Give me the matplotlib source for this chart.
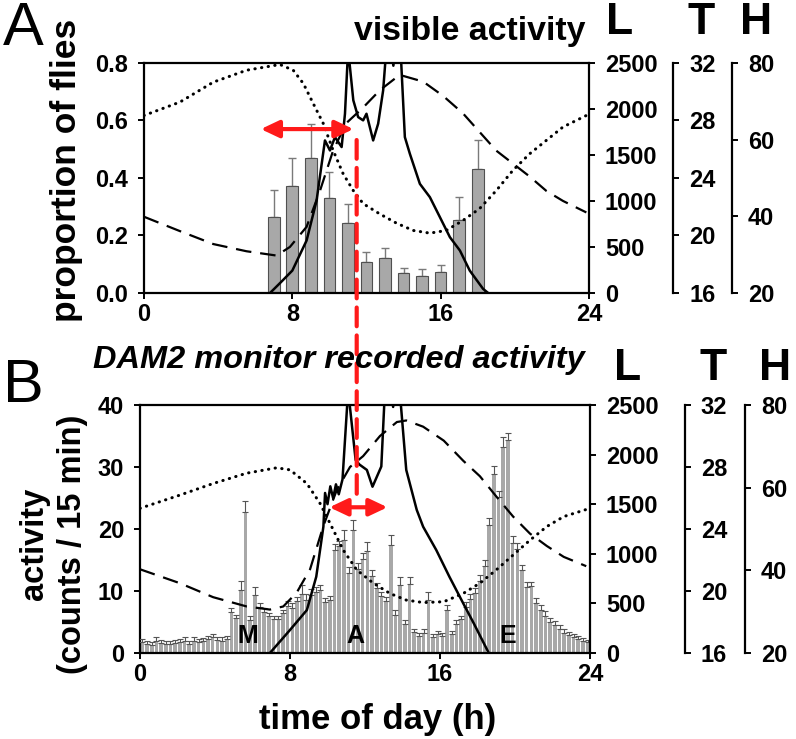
import matplotlib
matplotlib.use("Agg")
import matplotlib.pyplot as plt
from matplotlib.patches import ConnectionPatch

plt.rcParams['font.family'] = ['Liberation Sans', 'DejaVu Sans']
plt.rcParams['font.weight'] = 'bold'
plt.rcParams['axes.labelweight'] = 'bold'
plt.rcParams['axes.linewidth'] = 1.6
plt.rcParams['xtick.major.width'] = 1.4
plt.rcParams['ytick.major.width'] = 1.4
plt.rcParams['xtick.major.size'] = 4
plt.rcParams['ytick.major.size'] = 4
plt.rcParams['ytick.major.pad'] = 7.5
plt.rcParams['xtick.labelsize'] = 17
plt.rcParams['ytick.labelsize'] = 17

# ---- panel A: visible activity (proportion of flies, hourly) ----
hours_a = [7, 8, 9, 10, 11, 12, 13, 14, 15, 16, 17, 18]
prop_a = [0.264, 0.372, 0.469, 0.331, 0.243, 0.109, 0.123, 0.069, 0.058, 0.072, 0.252, 0.430]
prop_err_a = [0.095, 0.097, 0.120, 0.090, 0.065, 0.033, 0.033, 0.019, 0.024, 0.024, 0.081, 0.103]

# light (lux), temperature (C), humidity (%) during panel A recordings
light_t_a = [6.8, 7.4, 8.0, 8.77, 9.31, 9.76, 10.03, 10.3, 10.66, 10.84, 11.01, 11.29, 11.55,
             11.82, 12.0, 12.36, 12.63, 12.9, 13.05, 13.25, 13.45, 13.65, 13.85, 14.07, 14.34,
             14.88, 15.42, 15.96, 16.5, 17.04, 17.57, 18.29, 18.56]
light_a = [0, 120, 243, 570, 1005, 1658, 1549, 1694, 1586, 1948, 2650, 2094, 1912,
           1876, 1948, 1658, 1840, 2203, 2600, 2800, 2470, 2800, 2600, 1694, 1513,
           1186, 1041, 824, 606, 461, 243, 44, 0]
temp_t_a = [0, 1.94, 3.74, 5.53, 7.15, 7.87, 8.77, 9.49, 10.2, 10.9, 11.82, 12.72, 13.62,
            13.98, 15.06, 16.14, 17.2, 18.1, 19.0, 19.9, 20.8, 21.7, 22.6, 23.86]
temp_a = [21.3, 20.3, 19.4, 18.9, 18.6, 19.2, 20.6, 23.1, 25.9, 27.8, 28.9, 30.1, 31.0,
          31.1, 30.7, 29.7, 28.5, 27.2, 25.9, 25.0, 24.1, 23.1, 22.4, 21.6]
hum_t_a = [0, 1.94, 3.74, 5.53, 7.33, 8.05, 8.6, 9.13, 9.67, 10.2, 10.74, 11.29, 11.82,
           12.72, 13.62, 14.52, 15.42, 16.3, 17.2, 18.1, 19.0, 19.9, 20.8, 21.7, 22.6, 23.86]
hum_a = [66.3, 69.8, 75.0, 78.1, 79.6, 78.1, 74.6, 69.4, 64.2, 57.2, 51.1, 46.7, 43.3,
         40.6, 38.2, 36.3, 35.6, 36.3, 38.9, 42.0, 46.7, 52.0, 56.3, 59.8, 63.3, 66.3]

# ---- panel B: DAM2 monitor counts per 15 min (96 bins) ----
counts_b = [1.8, 1.5, 1.3, 2.0, 1.6, 1.5, 1.4, 1.6, 1.7, 1.9, 1.5, 2.0, 1.8, 1.9, 2.2, 2.5,
            2.1, 2.0, 2.3, 6.6, 5.6, 10.2, 22.8, 5.3, 9.3, 7.4, 6.6, 5.9, 5.5, 5.4, 6.4, 7.6,
            7.3, 8.4, 9.5, 8.6, 9.3, 9.8, 10.1, 8.2, 8.6, 16.6, 17.2, 18.3, 12.9, 19.8, 13.6, 15.2,
            16.4, 12.4, 10.5, 9.2, 8.4, 17.4, 6.2, 11.0, 4.6, 11.2, 3.4, 2.8, 3.2, 8.6, 2.6, 3.0,
            2.7, 6.9, 3.1, 4.6, 5.4, 7.4, 8.7, 9.6, 11.6, 14.0, 20.6, 28.8, 25.2, 33.2, 34.3, 17.8,
            16.8, 13.4, 10.7, 10.8, 8.1, 7.0, 6.0, 5.0, 4.5, 3.9, 3.3, 2.9, 2.5, 2.2, 2.0, 1.7]
counts_err_b = [0.5, 0.5, 0.4, 0.6, 0.5, 0.4, 0.5, 0.5, 0.5, 0.6, 0.4, 0.5, 0.5, 0.5, 0.6, 0.5,
                0.5, 0.6, 0.5, 0.7, 0.6, 1.4, 1.7, 0.6, 1.3, 0.7, 0.7, 0.5, 0.5, 0.5, 0.6, 0.8,
                0.8, 0.7, 1.4, 0.9, 1.0, 0.9, 0.9, 0.7, 0.6, 0.9, 0.9, 1.6, 1.0, 1.7, 0.9, 0.9,
                1.5, 1.0, 0.8, 0.7, 0.7, 1.6, 0.7, 1.2, 0.7, 1.1, 0.5, 0.5, 0.6, 1.2, 0.5, 0.5,
                0.5, 0.9, 0.5, 0.7, 0.6, 0.8, 0.8, 0.9, 1.0, 1.0, 1.1, 1.3, 1.0, 1.7, 1.2, 1.0,
                0.9, 0.8, 0.8, 0.7, 0.7, 0.7, 0.7, 0.6, 0.6, 0.6, 0.5, 0.5, 0.5, 0.5, 0.4, 0.4]

light_t_b = [6.93, 8.0, 8.9, 9.4, 9.78, 9.87, 10.0, 10.15, 10.3, 10.45, 10.6, 10.8, 11.1, 11.5,
             11.7, 12.1, 12.4, 12.87, 13.05, 13.3, 13.5, 13.7, 13.87, 14.2, 14.76, 15.1, 15.8,
             16.5, 17.24, 17.8, 18.6]
light_b = [0, 232, 433, 769, 1273, 1613, 1500, 1680, 1560, 1700, 1600, 1750, 2650, 1945,
           1900, 1845, 1676, 1880, 2600, 2800, 2480, 2800, 2600, 1845, 1442, 1273, 1038,
           769, 500, 299, 0]
temp_t_b = [0, 2.13, 3.9, 5.69, 6.93, 7.64, 8.36, 9.07, 9.78, 10.49, 11.2, 11.9, 12.8, 13.7,
            14.2, 15.1, 16.2, 17.24, 18.13, 19.0, 19.9, 20.8, 21.7, 22.6, 23.8]
temp_b = [21.4, 20.5, 19.6, 19.0, 18.8, 19.0, 19.9, 21.4, 24.2, 26.5, 28.0, 28.7, 30.0, 30.9,
          31.0, 30.6, 29.7, 28.4, 27.4, 26.1, 24.8, 23.7, 22.9, 22.2, 21.6]
hum_t_b = [0, 2.13, 3.9, 5.69, 7.29, 8.0, 8.9, 9.6, 10.13, 10.84, 11.56, 12.44, 13.33, 14.2,
           15.1, 16.2, 17.24, 18.13, 19.0, 19.9, 20.8, 21.7, 22.6, 24.0]
hum_b = [55.0, 58.2, 61.0, 63.5, 64.8, 64.3, 61.0, 56.2, 51.4, 44.9, 40.1, 36.9, 34.4, 32.8,
         32.2, 32.4, 34.4, 36.9, 40.1, 43.7, 47.3, 50.6, 53.0, 55.0]

hour_ticks = [0, 8, 16, 24]
red = '#ff1a1a'
arrow_style = '<|-|>,head_length=0.55,head_width=0.26'


def add_env(ax, t_pos, h_pos, lt, lv, tt, tv, ht, hv):
    axL = ax.twinx()
    axL.plot(lt, lv, color='black', lw=1.8)
    axL.set_ylim(0, 2500)
    axL.set_yticks([0, 500, 1000, 1500, 2000, 2500])
    for s in ('top', 'bottom', 'left'):
        axL.spines[s].set_visible(False)

    axT = ax.twinx()
    axT.spines['right'].set_position(('axes', t_pos))
    axT.plot(tt, tv, color='black', lw=1.6, dashes=(7, 4))
    axT.set_ylim(16, 32)
    axT.set_yticks([16, 20, 24, 28, 32])
    for s in ('top', 'bottom', 'left'):
        axT.spines[s].set_visible(False)

    axH = ax.twinx()
    axH.spines['right'].set_position(('axes', h_pos))
    axH.plot(ht, hv, color='black', lw=2.2, linestyle=(0, (0.1, 2.1)), dash_capstyle='round')
    axH.set_ylim(20, 80)
    axH.set_yticks([20, 40, 60, 80])
    for s in ('top', 'bottom', 'left'):
        axH.spines[s].set_visible(False)
    return axH


fig = plt.figure(figsize=(7.96, 7.39), dpi=100)

# ---------------- panel A ----------------
axA = fig.add_axes([0.1809, 0.6036, 0.559, 0.3112])
axA.bar(hours_a, prop_a, width=0.63, color='#a8a8a8', edgecolor='#505050', linewidth=0.8, zorder=2)
axA.errorbar(hours_a, prop_a, yerr=[[0] * len(prop_err_a), prop_err_a], fmt='none',
             ecolor='#7a7a7a', elinewidth=1.0, capsize=3, capthick=1.0, zorder=1)
axA.set_xlim(0, 24)
axA.set_ylim(0, 0.8)
axA.set_xticks(hour_ticks)
axA.set_yticks([0.0, 0.2, 0.4, 0.6, 0.8])
axA.set_yticklabels(['0.0', '0.2', '0.4', '0.6', '0.8'])
axA.spines['right'].set_visible(False)
axA.set_ylabel('proportion of flies', fontsize=25.5)
axA.yaxis.set_label_coords(-0.137, 0.535)
topA = add_env(axA, 1.189, 1.321, light_t_a, light_a, temp_t_a, temp_a, hum_t_a, hum_a)

topA.annotate('', xy=(11.3, 0.57), xytext=(6.3, 0.57),
              xycoords=axA.transData, textcoords=axA.transData,
              arrowprops=dict(arrowstyle=arrow_style, color=red, lw=3,
                              mutation_scale=20, shrinkA=0, shrinkB=0))

# ---------------- panel B ----------------
axB = fig.add_axes([0.1759, 0.1164, 0.5653, 0.3356])
bin_x = [i * 0.25 + 0.125 for i in range(len(counts_b))]
axB.bar(bin_x, counts_b, width=0.19, color='#a8a8a8', linewidth=0, zorder=2)
axB.errorbar(bin_x, counts_b, yerr=[[0] * len(counts_err_b), counts_err_b], fmt='none',
             ecolor='#555555', elinewidth=0.8, capsize=2, capthick=0.8, zorder=3)
axB.set_xlim(0, 24)
axB.set_ylim(0, 40)
axB.set_xticks(hour_ticks)
axB.set_yticks([0, 10, 20, 30, 40])
axB.spines['right'].set_visible(False)
axB.set_ylabel('activity\n(counts / 15 min)', fontsize=23.5, linespacing=1.27)
axB.yaxis.set_label_coords(-0.116, 0.44)
axB.set_xlabel('time of day (h)', fontsize=25, labelpad=12)
axB.xaxis.label.set_x(0.527)
for lab, hx in (('M', 5.76), ('A', 11.47), ('E', 19.6)):
    axB.text(hx, 2.7, lab, fontsize=18, ha='center', va='center', zorder=5)
topB = add_env(axB, 1.211, 1.344, light_t_b, light_b, temp_t_b, temp_b, hum_t_b, hum_b)

topB.annotate('', xy=(13.2, 23.5), xytext=(10.1, 23.5),
              xycoords=axB.transData, textcoords=axB.transData,
              arrowprops=dict(arrowstyle=arrow_style, color=red, lw=3,
                              mutation_scale=20, shrinkA=0, shrinkB=0))

# red dashed line linking the two panels
con = ConnectionPatch(xyA=(11.47, 0.532), coordsA=axA.transData,
                      xyB=(11.56, 25.2), coordsB=axB.transData,
                      color=red, lw=3, linestyle=(0, (4.5, 2.2)))
fig.add_artist(con)

# ---------------- titles / labels ----------------
fig.text(0.004, 0.998, 'A', fontsize=44, fontweight='normal', ha='left', va='top')
fig.text(0.004, 0.515, 'B', fontsize=44, fontweight='normal', ha='left', va='top')
fig.text(0.735, 0.957, 'visible activity', fontsize=24.4, ha='right', va='center')
fig.text(0.735, 0.513, 'DAM2 monitor recorded activity', fontsize=23.4, style='italic',
         ha='right', va='center')
for lab, px in (('L', 620), ('T', 701), ('H', 756)):
    fig.text(px / 796, 1 - 22 / 739, lab, fontsize=32, ha='center', va='center')
for lab, px in (('L', 628), ('T', 713), ('H', 775)):
    fig.text(px / 796, 1 - 368 / 739, lab, fontsize=32, ha='center', va='center')

fig.savefig('out.png', dpi=100)
